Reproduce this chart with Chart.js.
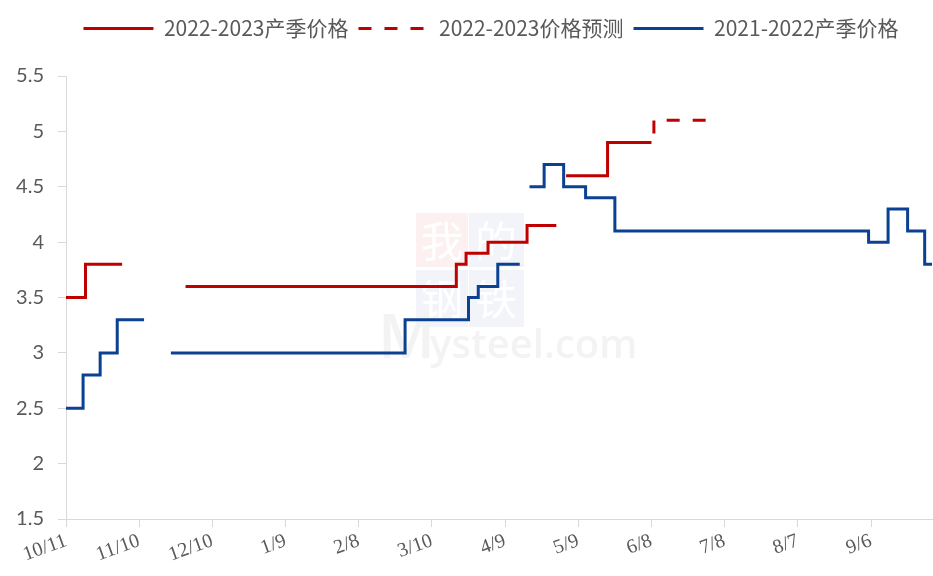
<!DOCTYPE html>
<html>
<head>
<meta charset="utf-8">
<script src="https://cdn.jsdelivr.net/npm/chart.js@4.4.1/dist/chart.umd.min.js"></script>
<style>
    html, body { margin: 0; padding: 0; background: #fff; }
</style>
</head>
<body>
<canvas id="chartLine" width="933" height="576"></canvas>
<script>
// x axis is days counted from 10/11
var tickDays = [0, 30, 60, 90, 120, 150, 180, 210, 240, 270, 300, 330];
var tickLabels = ['10/11', '11/10', '12/10', '1/9', '2/8', '3/10', '4/9', '5/9', '6/8', '7/8', '8/7', '9/6'];
var lastDay = 355;

// 2022-2023 season price (step changes, null = no quote)
var price2223Days = [0, 8, 23, 30, 49, 160, 164, 173, 189, 201, 203, 205, 222, 240];
var price2223 = [3.5, 3.8, 3.8, null, 3.6, 3.8, 3.9, 4.0, 4.15, 4.15, null, 4.6, 4.9, 4.9];

// 2022-2023 forecast
var forecast2223Days = [234, 241, 265];
var forecast2223 = [4.9, 5.1, 5.1];

// 2021-2022 season price
var price2122Days = [0, 7, 14, 21, 32, 37, 43, 139, 165, 169, 177, 186, 188, 190, 196, 204, 213, 225, 329, 337, 345, 352, 355];
var price2122 = [2.5, 2.8, 3.0, 3.3, 3.3, null, 3.0, 3.3, 3.5, 3.6, 3.8, 3.8, null, 4.5, 4.7, 4.5, 4.4, 4.1, 4.0, 4.3, 4.1, 3.8, 3.8];

var red = '#C00000';
var blue = '#0B4192';
var gray = '#595959';
var axisColor = '#d9d9d9';

function toPoints(days, values) {
    return days.map(function(d, i) { return { x: d, y: values[i] }; });
}

var legendFit = {
    id: 'legendFit',
    beforeLayout: function(chart) {
        var legend = chart.legend;
        if (legend && !legend._patched) {
            var fit = legend.fit;
            legend.fit = function() {
                fit.call(this);
                this.height = 68;
            };
            legend._patched = true;
        }
    },
    afterLayout: function(chart) {
        // legend sits a bit right of the canvas centre
        chart.legend.left += 50;
    }
};

// faint site watermark behind the lines
var watermark = {
    id: 'watermark',
    beforeDatasetsDraw: function(chart) {
        var ctx = chart.ctx;
        ctx.save();
        ctx.fillStyle = '#fcf0f0';
        ctx.fillRect(416, 213, 52, 54);
        ctx.fillStyle = '#f3f4f9';
        ctx.fillRect(469, 213, 55, 54);
        ctx.fillRect(416, 270, 52, 57);
        ctx.fillRect(469, 270, 55, 57);
        ctx.fillStyle = '#ffffff';
        ctx.font = '42px "Noto Sans CJK SC"';
        ctx.textAlign = 'center';
        ctx.textBaseline = 'middle';
        ctx.fillText('我', 442, 241);
        ctx.fillText('的', 496, 241);
        ctx.fillText('钢', 442, 299);
        ctx.fillText('铁', 496, 299);
        ctx.fillStyle = '#f3f3f3';
        ctx.textAlign = 'left';
        ctx.textBaseline = 'alphabetic';
        ctx.font = '600 62px "Open Sans"';
        ctx.fillText('M', 378, 358);
        ctx.font = '600 40px "Open Sans"';
        ctx.fillText('ysteel.com', 430, 358);
        ctx.restore();
    }
};

var lineChart = new Chart(document.getElementById('chartLine'), {
    type: 'line',
    data: {
        datasets: [
            {
                label: '2022-2023产季价格',
                data: toPoints(price2223Days, price2223),
                borderColor: red,
                backgroundColor: red,
                borderWidth: 3,
                stepped: 'before',
                pointRadius: 0,
                spanGaps: false,
                fill: false
            },
            {
                label: '2022-2023价格预测',
                data: toPoints(forecast2223Days, forecast2223),
                borderColor: red,
                backgroundColor: red,
                borderWidth: 3,
                borderDash: [13, 13],
                stepped: 'before',
                pointRadius: 0,
                fill: false
            },
            {
                label: '2021-2022产季价格',
                data: toPoints(price2122Days, price2122),
                borderColor: blue,
                backgroundColor: blue,
                borderWidth: 3,
                stepped: 'before',
                pointRadius: 0,
                spanGaps: false,
                fill: false
            }
        ]
    },
    options: {
        responsive: false,
        animation: false,
        devicePixelRatio: 1,
        layout: { padding: { left: 0, top: 8, right: 1, bottom: 0 } },
        plugins: {
            tooltip: { enabled: false },
            legend: {
                position: 'top',
                labels: {
                    usePointStyle: true,
                    pointStyle: 'line',
                    pointStyleWidth: 70,
                    padding: 10,
                    color: gray,
                    font: { family: '"Noto Sans CJK SC"', size: 21 },
                    generateLabels: function(chart) {
                        return chart.data.datasets.map(function(ds, i) {
                            return {
                                text: ds.label,
                                strokeStyle: ds.borderColor,
                                fillStyle: ds.borderColor,
                                lineWidth: 3,
                                lineDash: ds.borderDash || [],
                                pointStyle: 'line',
                                fontColor: gray,
                                datasetIndex: i
                            };
                        });
                    }
                }
            }
        },
        scales: {
            x: {
                type: 'linear',
                min: 0,
                max: lastDay,
                afterBuildTicks: function(scale) {
                    scale.ticks = tickDays.map(function(d) { return { value: d }; });
                },
                afterFit: function(scale) { scale.height = 57; },
                grid: { drawOnChartArea: false, tickLength: 8, color: axisColor },
                border: { color: axisColor },
                ticks: {
                    autoSkip: false,
                    minRotation: 20,
                    maxRotation: 20,
                    padding: 2,
                    color: gray,
                    font: { family: '"Liberation Serif"', size: 20 },
                    callback: function(value, index) { return tickLabels[index]; }
                }
            },
            y: {
                min: 1.5,
                max: 5.5,
                afterFit: function(scale) { scale.width = 66; },
                grid: { drawOnChartArea: false, tickLength: 8, color: axisColor },
                border: { color: axisColor },
                ticks: {
                    stepSize: 0.5,
                    padding: 14,
                    color: gray,
                    font: { family: 'Lato', size: 20 },
                    callback: function(value) { return '' + value; }
                }
            }
        }
    },
    plugins: [legendFit, watermark]
});
</script>
</body>
</html>
